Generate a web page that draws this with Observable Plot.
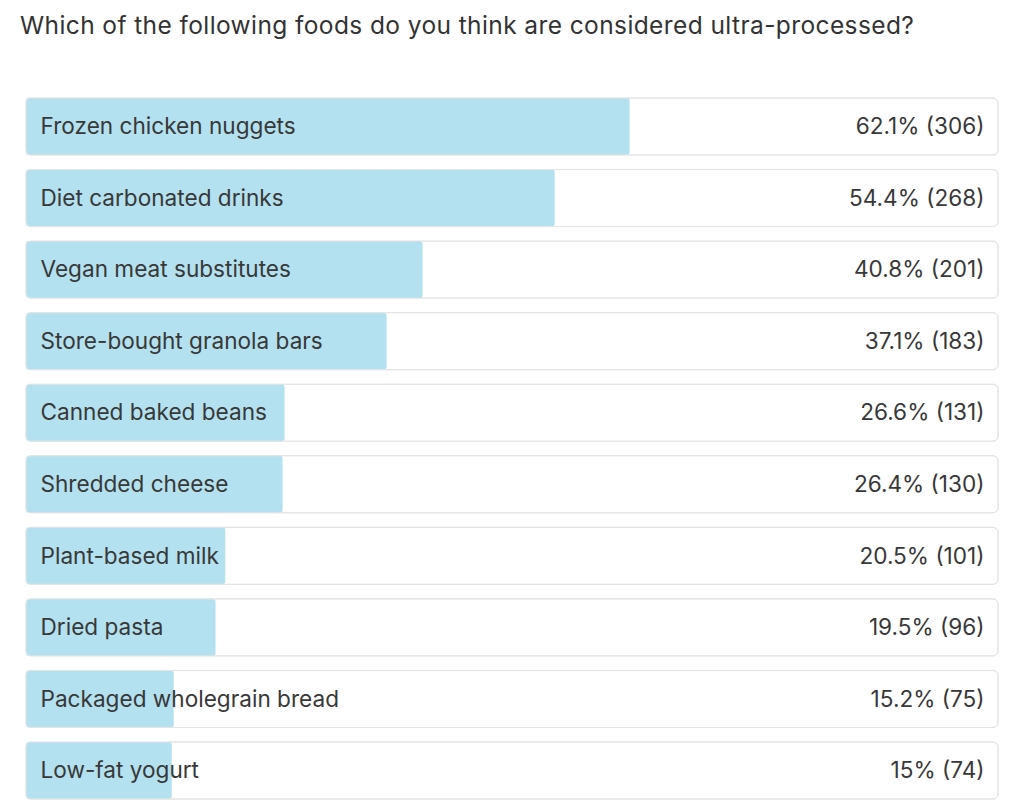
<!DOCTYPE html>
<html>
<head>
<meta charset="utf-8">
<script src="https://cdn.jsdelivr.net/npm/d3@7"></script>
<script src="https://cdn.jsdelivr.net/npm/@observablehq/plot@0.6"></script>
<style>
  html, body { margin: 0; padding: 0; background: #fff; }
  #title { height: 60px; box-sizing: border-box; padding: 13px 0 0 20px; font-family: Inter, "Open Sans", sans-serif; font-size: 24.5px; line-height: 1; letter-spacing: 0.4px; color: #333; white-space: nowrap; }
  #chart svg { display: block; }
</style>
</head>
<body>
<div id="title">Which of the following foods do you think are considered ultra-processed?</div>
<div id="chart"></div>
<script>
const foods = ["Frozen chicken nuggets", "Diet carbonated drinks", "Vegan meat substitutes", "Store-bought granola bars", "Canned baked beans", "Shredded cheese", "Plant-based milk", "Dried pasta", "Packaged wholegrain bread", "Low-fat yogurt"];
const percents = [62.1, 54.4, 40.8, 37.1, 26.6, 26.4, 20.5, 19.5, 15.2, 15];
const counts = [306, 268, 201, 183, 131, 130, 101, 96, 75, 74];
const percentLabels = ["62.1%", "54.4%", "40.8%", "37.1%", "26.6%", "26.4%", "20.5%", "19.5%", "15.2%", "15%"];

const data = foods.map((f, i) => ({food: f, pct: percents[i], n: counts[i], label: `${percentLabels[i]} (${counts[i]})`}));
const font = "Inter, 'Open Sans', sans-serif";

const chart = Plot.plot({
  width: 1024,
  height: 750,
  marginLeft: 26,
  marginRight: 26,
  marginTop: 38,
  marginBottom: 11,
  style: {fontFamily: font, background: "#fff"},
  x: {domain: [0, 100], axis: null},
  y: {type: "band", domain: foods, paddingInner: 0.2035, paddingOuter: 0, round: false, axis: null},
  marks: [
    Plot.barX(data, {y: "food", x1: 0, x2: 100, fill: "#fff", stroke: "#e4e4e4", strokeWidth: 1, rx: 5}),
    Plot.barX(data, {y: "food", x1: 0, x2: "pct", fill: "#b3e1ef", rx: 3}),
    Plot.ruleX(data, {x: "pct", y: "food", stroke: "#555", strokeWidth: 1, strokeDasharray: "1.5,1.5"}),
    Plot.barX(data, {y: "food", x1: 0, x2: 100, fill: "none", stroke: "#e4e4e4", strokeWidth: 1, rx: 5}),
    Plot.text(data, {y: "food", x: 0, text: "food", textAnchor: "start", dx: 14, fontSize: 22.6, fill: "#383838"}),
    Plot.text(data, {y: "food", x: 100, text: "label", textAnchor: "end", dx: -14, fontSize: 22.6, fill: "#383838"})
  ]
});
document.getElementById("chart").appendChild(chart);
</script>
</body>
</html>
